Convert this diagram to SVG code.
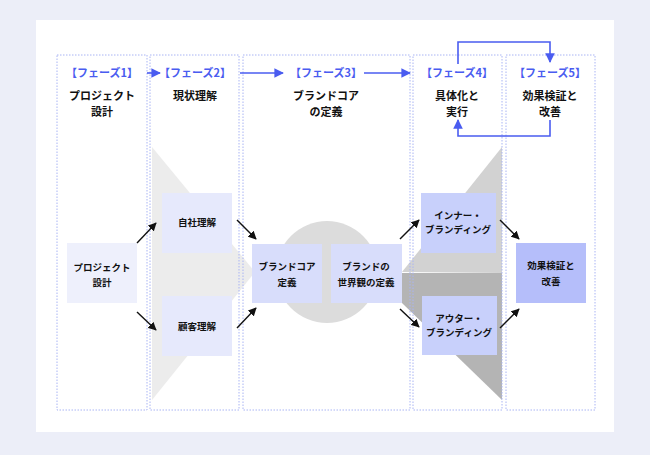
<svg xmlns="http://www.w3.org/2000/svg" width="650" height="455" viewBox="0 0 650 455">
<style>
text{font-family:"Noto Sans CJK JP","Noto Sans",sans-serif;text-anchor:middle}
.ph{fill:#4a5cf0;font-size:11px;font-weight:bold}
.tt{fill:#111;font-size:11px;font-weight:bold}
.bx{font-size:9.5px;font-weight:bold;fill:#111}
.col{fill:none;stroke:#a9b4f4;stroke-width:1;stroke-dasharray:1.5 1.5}
.blue{stroke:#4a5cf0;stroke-width:1.6;fill:none}
.blk{stroke:#111;stroke-width:1.4;fill:none}
</style>
<defs>
<marker id="ab" viewBox="0 0 10 10" refX="9" refY="5" markerWidth="6" markerHeight="6" orient="auto"><path d="M0,0L10,5L0,10z" fill="#4a5cf0"/></marker>
<marker id="ak" viewBox="0 0 10 10" refX="9" refY="5" markerWidth="6" markerHeight="6" orient="auto"><path d="M0,0L10,5L0,10z" fill="#111"/></marker>
</defs>
<rect width="650" height="455" fill="#eceef8"/>
<rect x="36" y="20" width="578" height="412" fill="#fff"/>
<polygon points="152,147 255,272 152,400" fill="#ececec"/>
<circle cx="327" cy="272" r="51" fill="#dcdcdc"/>
<polygon points="402,272 502,147 502,273" fill="#d2d2d2"/>
<polygon points="402,273 502,273 502,400 402,303" fill="#b4b4b4"/>
<g id="columns">
<rect class="col" x="57" y="55" width="90" height="355"/>
<rect class="col" x="150" y="55" width="89" height="355"/>
<rect class="col" x="243" y="55" width="167" height="355"/>
<rect class="col" x="413" y="55" width="89" height="355"/>
<rect class="col" x="506" y="55" width="89" height="355"/>
</g>
<g id="headers">
<text class="ph" x="102" y="77">【フェーズ1】</text>
<text class="ph" x="195" y="77">【フェーズ2】</text>
<text class="ph" x="326" y="77">【フェーズ3】</text>
<text class="ph" x="457" y="77">【フェーズ4】</text>
<text class="ph" x="550" y="77">【フェーズ5】</text>
<text class="tt" x="102" y="100">プロジェクト</text><text class="tt" x="102" y="116">設計</text>
<text class="tt" x="195" y="100">現状理解</text>
<text class="tt" x="326" y="100">ブランドコア</text><text class="tt" x="326" y="116">の定義</text>
<text class="tt" x="457" y="100">具体化と</text><text class="tt" x="457" y="116">実行</text>
<text class="tt" x="550" y="100">効果検証と</text><text class="tt" x="550" y="116">改善</text>
</g>
<g id="n1"><rect x="67" y="243" width="70" height="60" fill="#eef0fc"/><text class="bx" x="102" y="271">プロジェクト</text><text class="bx" x="102" y="286">設計</text></g>
<g id="n2"><rect x="162" y="193" width="70" height="60" fill="#e6e9fc"/><text class="bx" x="197" y="226">自社理解</text></g>
<g id="n3"><rect x="162" y="296" width="70" height="60" fill="#e6e9fc"/><text class="bx" x="197" y="330">顧客理解</text></g>
<g id="n4"><rect x="252" y="244" width="70" height="59" fill="#d8ddfb"/><text class="bx" x="287" y="270">ブランドコア</text><text class="bx" x="287" y="286">定義</text></g>
<g id="n5"><rect x="331" y="244" width="71" height="59" fill="#d8ddfb"/><text class="bx" x="366" y="270">ブランドの</text><text class="bx" x="366" y="286">世界観の定義</text></g>
<g id="n6"><rect x="421" y="193" width="75" height="60" fill="#c8d0fb"/><text class="bx" x="458" y="219">インナー・</text><text class="bx" x="458" y="233">ブランディング</text></g>
<g id="n7"><rect x="422" y="296" width="75" height="59" fill="#c8d0fb"/><text class="bx" x="459" y="322">アウター・</text><text class="bx" x="459" y="336">ブランディング</text></g>
<g id="n8"><rect x="516" y="243" width="70" height="60" fill="#b5befa"/><text class="bx" x="551" y="269">効果検証と</text><text class="bx" x="551" y="285">改善</text></g>
<g id="connectors">
<path class="blue" marker-end="url(#ab)" d="M147,73H160"/>
<path class="blue" marker-end="url(#ab)" d="M240,73H283"/>
<path class="blue" marker-end="url(#ab)" d="M364,73H410"/>
<path class="blue" marker-end="url(#ab)" d="M458,64V42H550V62"/>
<path class="blue" marker-end="url(#ab)" d="M550,120V136H458V120"/>
<path class="blk" marker-end="url(#ak)" d="M137,243L156,223"/>
<path class="blk" marker-end="url(#ak)" d="M137,312L156,330"/>
<path class="blk" marker-end="url(#ak)" d="M237,220L256,239"/>
<path class="blk" marker-end="url(#ak)" d="M237,328L256,308"/>
<path class="blk" marker-end="url(#ak)" d="M400,239L419,220"/>
<path class="blk" marker-end="url(#ak)" d="M400,309L419,327"/>
<path class="blk" marker-end="url(#ak)" d="M500,220L519,239"/>
<path class="blk" marker-end="url(#ak)" d="M500,328L519,309"/>
</g>
</svg>
